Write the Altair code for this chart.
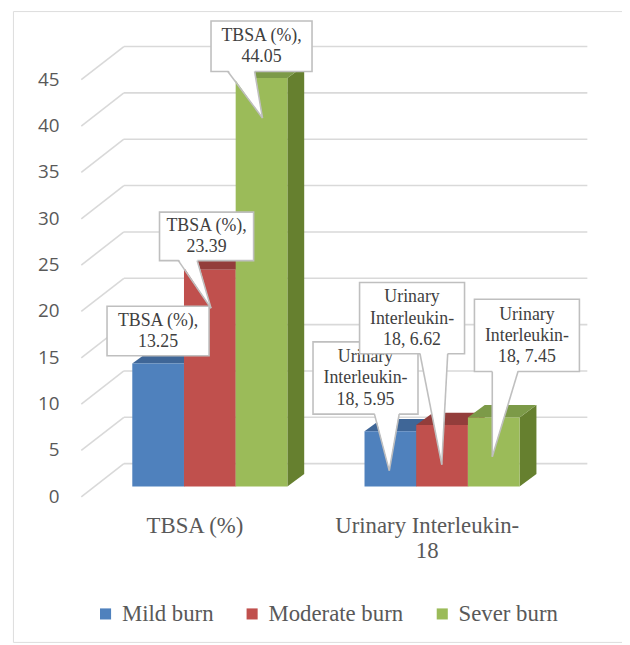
import re
import altair as alt
import pandas as pd

# ---------------- data ----------------
categories = ["TBSA (%)", "Urinary Interleukin-18"]
category_axis_lines = [["TBSA (%)"], ["Urinary Interleukin-", "18"]]
series = ["Mild burn", "Moderate burn", "Sever burn"]
mild_burn = [13.25, 5.95]
moderate_burn = [23.39, 6.62]
sever_burn = [44.05, 7.45]
y_ticks = [0, 5, 10, 15, 20, 25, 30, 35, 40, 45]

series_values = [mild_burn, moderate_burn, sever_burn]

# ---------------- styles ----------------
front_colors = ["#4F81BD", "#C0504D", "#9BBB59"]
top_colors = ["#3F6697", "#933D3B", "#7C9A48"]
side_colors = ["#365885", "#7E3331", "#66802F"]
GRID = "#D9D9D9"
CALLOUT_STROKE = "#BFBFBF"
TEXT_GRAY = "#595959"
CALLOUT_TEXT = "#404040"
SERIF = "Liberation Serif"
SANS = "Open Sans"

# ---------------- layout (page pixels) ----------------
LEFT_PAD = 5
X0_PAGE = 8 + LEFT_PAD      # page x of plot-area left edge
Y0_PAGE = 8                 # page y of plot-area top edge
W, H = 615, 637
PX_PER_UNIT = 9.36
BASE_Y = 488.0


def v_of(py):
    return (BASE_Y - py) / PX_PER_UNIT


BAR_W = 52.2
GROUP_X0 = 133.5
GROUP_STEP = 234.5
DEPTH_X = 17.0
DEPTH_V = 12.5 / PX_PER_UNIT
FRONT_V = v_of(498.5)
BACK_V = v_of(465.0)
GRID_X_FRONT = 82.0
GRID_X_BACK = 125.0
GRID_X_END = 593.0
TICK_LABEL_X = 60.0
CAT_LABEL_DX = -15.0
CAT_LABEL_PY = 535.0
CAT_LH = 25.0
CALLOUT_LH = 21.5

# callout boxes: (x0, x1, y0, y1) and pointer (base_left, base_right, apex_x, apex_y)
callout_layout = {
    (0, 0): ((108, 211, 306, 356), None),
    (0, 1): ((161, 256, 211, 260), (180, 199, 213, 308)),
    (0, 2): ((213, 315, 18, 69), (230, 257, 265, 116)),
    (1, 0): ((316, 422, 342, 415), (378, 403, 393, 472)),
    (1, 1): ((363, 469, 282, 354), (424, 452, 446, 466)),
    (1, 2): ((479, 585, 299, 372), (497, 523, 497, 458)),
}


def wrap(text, width=12):
    tokens = [t for t in re.split(r"(?<=[ -])", text) if t]
    lines, cur = [], ""
    for t in tokens:
        if cur and len((cur + t).rstrip()) > width:
            lines.append(cur.rstrip())
            cur = t
        else:
            cur += t
    if cur.strip():
        lines.append(cur.rstrip())
    return lines


xs = alt.Scale(domain=[X0_PAGE, X0_PAGE + W], nice=False, zero=False)
ys = alt.Scale(domain=[v_of(Y0_PAGE + H), v_of(Y0_PAGE)], nice=False, zero=False)


def X(f):
    return alt.X(f, type="quantitative", scale=xs, axis=None, stack=None)


def Y(f):
    return alt.Y(f, type="quantitative", scale=ys, axis=None, stack=None)


# ---------------- tables ----------------
bars, sides, tops = [], [], []
for g, cat in enumerate(categories):
    for s, name in enumerate(series):
        v = series_values[s][g]
        xl = GROUP_X0 + g * GROUP_STEP + s * BAR_W
        xr = xl + BAR_W
        bid = f"{g}-{s}"
        bars.append(dict(id=bid, series=name, xl=xl, xr=xr, v0=0.0, v=v))
        sides.append(dict(id=bid, series=name, x=xr, lo=0.0, hi=v))
        sides.append(dict(id=bid, series=name, x=xr + DEPTH_X, lo=DEPTH_V, hi=v + DEPTH_V))
        tops.append(dict(id=bid, series=name, y=v, xa=xl, xb=xr))
        tops.append(dict(id=bid, series=name, y=v + DEPTH_V, xa=xl + DEPTH_X, xb=xr + DEPTH_X))

bars_df = pd.DataFrame(bars)
sides_df = pd.DataFrame(sides)
tops_df = pd.DataFrame(tops)

grid_df = pd.DataFrame({
    "t": y_ticks,
    "label": [str(t) for t in y_ticks],
    "yb": [t + BACK_V for t in y_ticks],
    "yf": [t + FRONT_V for t in y_ticks],
    "xf": GRID_X_FRONT, "xb": GRID_X_BACK, "xe": GRID_X_END, "lx": TICK_LABEL_X,
})

cat_rows = []
for g, lines in enumerate(category_axis_lines):
    cx = GROUP_X0 + g * GROUP_STEP + 1.5 * BAR_W + CAT_LABEL_DX
    for i, line in enumerate(lines):
        cat_rows.append(dict(label=line, x=cx, y=v_of(CAT_LABEL_PY + i * CAT_LH)))
cat_df = pd.DataFrame(cat_rows)

# ---------------- layers ----------------
layers = []

layers.append(alt.Chart(grid_df).mark_rule(color=GRID, strokeWidth=1.6).encode(
    x=X("xb"), x2=alt.X2("xe"), y=Y("yb")))
layers.append(alt.Chart(grid_df).mark_rule(color=GRID, strokeWidth=1.6).encode(
    x=X("xf"), x2=alt.X2("xb"), y=Y("yf"), y2=alt.Y2("yb")))
layers.append(alt.Chart(grid_df).mark_text(
    align="right", baseline="middle", font=SANS, fontSize=19, color=TEXT_GRAY).encode(
    x=X("lx"), y=Y("yf"), text="label:N"))

layers.append(alt.Chart(sides_df).mark_area(orient="vertical", opacity=1).encode(
    x=X("x"), y=Y("lo"), y2=alt.Y2("hi"), detail="id:N",
    color=alt.Color("series:N", scale=alt.Scale(domain=series, range=side_colors), legend=None)))
layers.append(alt.Chart(tops_df).mark_area(orient="horizontal", opacity=1).encode(
    y=Y("y"), x=X("xa"), x2=alt.X2("xb"), detail="id:N",
    color=alt.Color("series:N", scale=alt.Scale(domain=series, range=top_colors), legend=None)))
layers.append(alt.Chart(bars_df).mark_rect(opacity=1).encode(
    x=X("xl"), x2=alt.X2("xr"), y=Y("v0"), y2=alt.Y2("v"),
    color=alt.Color("series:N", scale=alt.Scale(domain=series, range=front_colors),
                    legend=alt.Legend(orient="none", legendX=82, legendY=597, direction="horizontal",
                                      title=None, symbolType="square", symbolSize=125,
                                      symbolStrokeWidth=0, labelFont=SERIF, labelFontSize=23,
                                      labelColor=TEXT_GRAY, columnPadding=27, labelOffset=5,
                                      labelLimit=300))))

layers.append(alt.Chart(cat_df).mark_text(
    align="center", baseline="alphabetic", font=SERIF, fontSize=23, color=TEXT_GRAY).encode(
    x=X("x"), y=Y("y"), text="label:N"))

# callouts
for g, cat in enumerate(categories):
    for s, name in enumerate(series):
        v = series_values[s][g]
        (bx0, bx1, by0, by1), ptr = callout_layout[(g, s)]
        lines = wrap(f"{cat}, {v:.2f}", width=12)
        first_py = (by0 + by1) / 2 + 0.5 - (len(lines) - 1) * CALLOUT_LH / 2
        box_df = pd.DataFrame([dict(x0=bx0, x1=bx1, y0=v_of(by0), y1=v_of(by1))])
        text_df = pd.DataFrame([dict(cx=(bx0 + bx1) / 2, cy=v_of(first_py + i * CALLOUT_LH), line=ln)
                                for i, ln in enumerate(lines)])
        layers.append(alt.Chart(box_df).mark_rect(fill="white", stroke=CALLOUT_STROKE, strokeWidth=1.6).encode(
            x=X("x0"), x2=alt.X2("x1"), y=Y("y0"), y2=alt.Y2("y1")))
        if ptr is not None:
            bl, br, ax, ay = ptr
            tri_df = pd.DataFrame([
                dict(y=v_of(by1 - 2), xa=bl, xb=br),
                dict(y=v_of(ay), xa=ax, xb=ax),
            ])
            layers.append(alt.Chart(tri_df).mark_area(orient="horizontal", color="white", opacity=1).encode(
                y=Y("y"), x=X("xa"), x2=alt.X2("xb")))
            edge_df = pd.DataFrame([
                dict(x=bl, y=v_of(by1), x2=ax, y2=v_of(ay)),
                dict(x=br, y=v_of(by1), x2=ax, y2=v_of(ay)),
            ])
            layers.append(alt.Chart(edge_df).mark_rule(color=CALLOUT_STROKE, strokeWidth=1.6).encode(
                x=X("x"), x2=alt.X2("x2"), y=Y("y"), y2=alt.Y2("y2")))
        layers.append(alt.Chart(text_df).mark_text(
            align="center", baseline="middle", font=SERIF, fontSize=18, color=CALLOUT_TEXT).encode(
            x=X("cx"), y=Y("cy"), text="line:N"))

chart = alt.layer(*layers).resolve_scale(color="independent").properties(
    width=W, height=H,
    padding={"left": LEFT_PAD, "top": 0, "right": 0, "bottom": 0},
    autosize=alt.AutoSizeParams(type="none"),
)

chart.save("out.html", embed_options={"renderer": "svg", "actions": False})
